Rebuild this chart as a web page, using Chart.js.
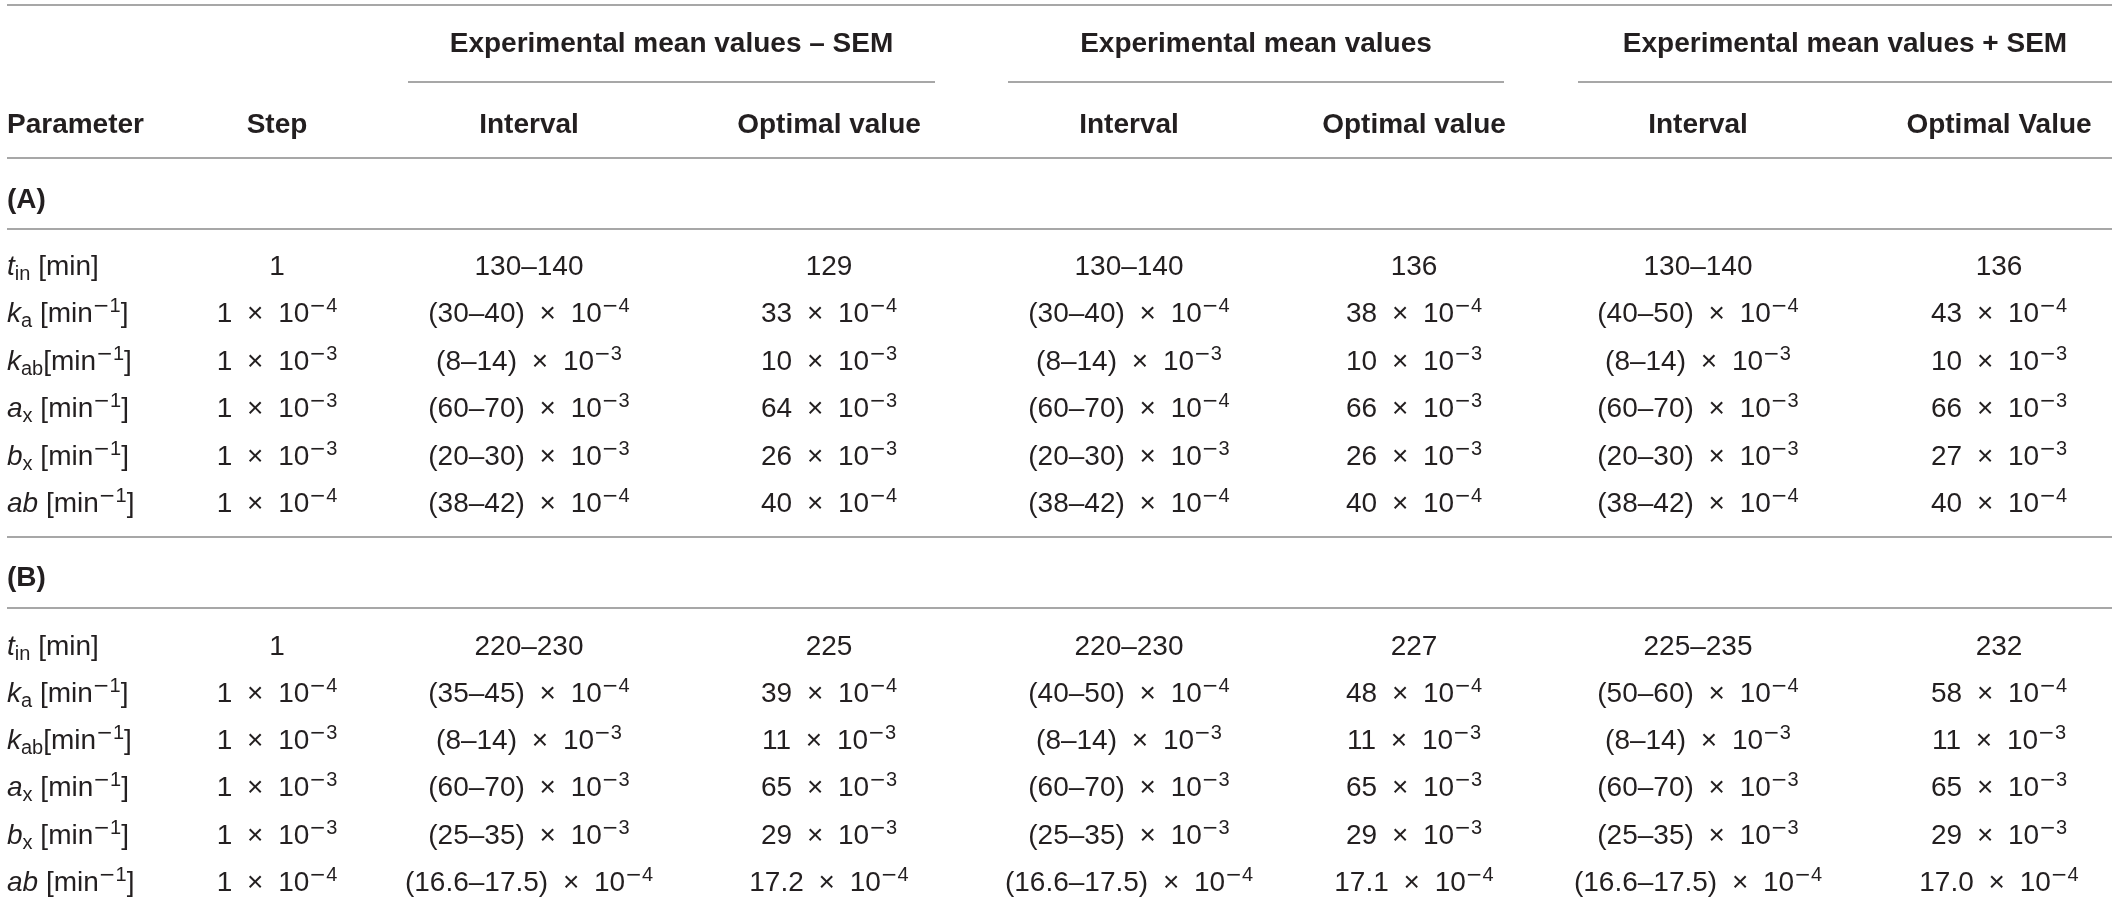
<!DOCTYPE html>
<html>
<head>
<meta charset="utf-8">
<script src="https://cdn.jsdelivr.net/npm/chart.js@4.4.1/dist/chart.umd.min.js"></script>
<style>
  html, body { margin: 0; padding: 0; background: #ffffff; }
  #wrap { width: 2118px; height: 902px; position: relative; }
</style>
</head>
<body>
<div id="wrap"><canvas id="table"></canvas></div>
<script>
// ---------------- DATA ----------------
// markup: *..* italic, _{..} subscript, ^{..} superscript
const groupHeaders = ['Experimental mean values – SEM', 'Experimental mean values', 'Experimental mean values + SEM'];
const columnHeaders = ['Parameter', 'Step', 'Interval', 'Optimal value', 'Interval', 'Optimal value', 'Interval', 'Optimal Value'];
const sectionLabels = ['(A)', '(B)'];
const parameters = ['*t*_{in} [min]', '*k*_{a} [min^{−1}]', '*k*_{ab}[min^{−1}]', '*a*_{x} [min^{−1}]', '*b*_{x} [min^{−1}]', '*ab* [min^{−1}]'];
const steps = ['1', '1 × 10^{−4}', '1 × 10^{−3}', '1 × 10^{−3}', '1 × 10^{−3}', '1 × 10^{−4}'];

// Section (A)
const semIntervalA  = ['130–140', '(30–40) × 10^{−4}', '(8–14) × 10^{−3}', '(60–70) × 10^{−3}', '(20–30) × 10^{−3}', '(38–42) × 10^{−4}'];
const semOptimalA   = ['129', '33 × 10^{−4}', '10 × 10^{−3}', '64 × 10^{−3}', '26 × 10^{−3}', '40 × 10^{−4}'];
const meanIntervalA = ['130–140', '(30–40) × 10^{−4}', '(8–14) × 10^{−3}', '(60–70) × 10^{−4}', '(20–30) × 10^{−3}', '(38–42) × 10^{−4}'];
const meanOptimalA  = ['136', '38 × 10^{−4}', '10 × 10^{−3}', '66 × 10^{−3}', '26 × 10^{−3}', '40 × 10^{−4}'];
const plusIntervalA = ['130–140', '(40–50) × 10^{−4}', '(8–14) × 10^{−3}', '(60–70) × 10^{−3}', '(20–30) × 10^{−3}', '(38–42) × 10^{−4}'];
const plusOptimalA  = ['136', '43 × 10^{−4}', '10 × 10^{−3}', '66 × 10^{−3}', '27 × 10^{−3}', '40 × 10^{−4}'];

// Section (B)
const semIntervalB  = ['220–230', '(35–45) × 10^{−4}', '(8–14) × 10^{−3}', '(60–70) × 10^{−3}', '(25–35) × 10^{−3}', '(16.6–17.5) × 10^{−4}'];
const semOptimalB   = ['225', '39 × 10^{−4}', '11 × 10^{−3}', '65 × 10^{−3}', '29 × 10^{−3}', '17.2 × 10^{−4}'];
const meanIntervalB = ['220–230', '(40–50) × 10^{−4}', '(8–14) × 10^{−3}', '(60–70) × 10^{−3}', '(25–35) × 10^{−3}', '(16.6–17.5) × 10^{−4}'];
const meanOptimalB  = ['227', '48 × 10^{−4}', '11 × 10^{−3}', '65 × 10^{−3}', '29 × 10^{−3}', '17.1 × 10^{−4}'];
const plusIntervalB = ['225–235', '(50–60) × 10^{−4}', '(8–14) × 10^{−3}', '(60–70) × 10^{−3}', '(25–35) × 10^{−3}', '(16.6–17.5) × 10^{−4}'];
const plusOptimalB  = ['232', '58 × 10^{−4}', '11 × 10^{−3}', '65 × 10^{−3}', '29 × 10^{−3}', '17.0 × 10^{−4}'];

// ---------------- LAYOUT (table units = scale units) ----------------
const COL_X = [7, 277, 529, 829, 1129, 1414, 1698, 1999];
const GROUP_SPANS = [[408, 935], [1008, 1504], [1578, 2112]];
const TABLE_X = [7, 2112];
const Y_TOP_RULE = 5, Y_GROUP = 42, Y_GROUP_RULE = 82, Y_HEAD = 123, Y_HEAD_RULE = 158;
const SECTION_Y = [198, 576];
const SECTION_RULE_Y = [229, 608];
const SECTION_SEP_Y = 537;
const ROWS_Y = [[265, 312, 360, 407, 455, 502], [645, 692, 739, 786, 834, 881]];

const TEXT_COLOR = '#231f20';
const RULE_COLOR = '#8a8a8a';
const FONT = '"Liberation Sans", Arial, Helvetica, sans-serif';
const MAIN_PX = 28, SMALL_PX = 20;

const sections = [
  [parameters, steps, semIntervalA, semOptimalA, meanIntervalA, meanOptimalA, plusIntervalA, plusOptimalA],
  [parameters, steps, semIntervalB, semOptimalB, meanIntervalB, meanOptimalB, plusIntervalB, plusOptimalB]
];

// ---------------- RULES as line datasets ----------------
function rule(x0, x1, y) {
  return { data: [{ x: x0, y: y }, { x: x1, y: y }], showLine: true, borderColor: RULE_COLOR,
           borderWidth: 1.5, pointRadius: 0, pointHoverRadius: 0, fill: false };
}
const ruleSets = [rule(TABLE_X[0], TABLE_X[1], Y_TOP_RULE)];
GROUP_SPANS.forEach(s => ruleSets.push(rule(s[0], s[1], Y_GROUP_RULE)));
ruleSets.push(rule(TABLE_X[0], TABLE_X[1], Y_HEAD_RULE));
SECTION_RULE_Y.forEach(y => ruleSets.push(rule(TABLE_X[0], TABLE_X[1], y)));
ruleSets.push(rule(TABLE_X[0], TABLE_X[1], SECTION_SEP_Y));

// ---------------- rich text ----------------
function parseRich(s) {
  const out = []; let italic = false; let buf = ''; let i = 0;
  const push = (t, pos) => { if (t) out.push({ t: t, it: italic, pos: pos }); };
  while (i < s.length) {
    const c = s[i];
    if (c === '*') { push(buf, 'base'); buf = ''; italic = !italic; i++; }
    else if ((c === '_' || c === '^') && s[i + 1] === '{') {
      push(buf, 'base'); buf = '';
      const j = s.indexOf('}', i);
      push(s.slice(i + 2, j), c === '_' ? 'sub' : 'sup');
      i = j + 1;
    } else { buf += c; i++; }
  }
  push(buf, 'base');
  return out;
}
function buildRuns(str, bold) {
  const runs = [];
  const w = bold ? 'bold ' : '';
  parseRich(str).forEach(tok => {
    if (tok.pos === 'base') {
      const font = (tok.it ? 'italic ' : '') + w + MAIN_PX + 'px ' + FONT;
      const parts = tok.t.split('×');
      parts.forEach((p, k) => {
        if (p) runs.push({ t: p, font: font, dy: 0, padL: 0, padR: 0 });
        if (k < parts.length - 1) runs.push({ t: '×', font: font, dy: 0, padL: 7, padR: 7 });
      });
    } else {
      const dy = tok.pos === 'sup' ? -10 : 5;
      let cur = '';
      const flush = () => { if (cur) { runs.push({ t: cur, font: w + SMALL_PX + 'px ' + FONT, dy: dy, padL: 0, padR: 0 }); cur = ''; } };
      for (const ch of tok.t) {
        if (ch === '−') { flush(); runs.push({ t: '−', font: w + SMALL_PX + 'px "DejaVu Sans", ' + FONT, dy: dy, padL: 0, padR: 0 }); }
        else cur += ch;
      }
      flush();
    }
  });
  return runs;
}
function drawRich(ctx, str, x, yCenter, align, bold) {
  const runs = buildRuns(str, bold);
  let total = 0;
  runs.forEach(r => { ctx.font = r.font; r.w = ctx.measureText(r.t).width; total += r.padL + r.w + r.padR; });
  let cx = align === 'left' ? x : x - total / 2;
  const base = yCenter + 10;
  ctx.fillStyle = TEXT_COLOR;
  ctx.textBaseline = 'alphabetic';
  ctx.textAlign = 'left';
  runs.forEach(r => {
    ctx.font = r.font;
    cx += r.padL;
    ctx.fillText(r.t, cx, base + r.dy);
    cx += r.w + r.padR;
  });
}

const tableTextPlugin = {
  id: 'tableText',
  afterDatasetsDraw(chart) {
    const ctx = chart.ctx;
    const px = v => chart.scales.x.getPixelForValue(v);
    const py = v => chart.scales.y.getPixelForValue(v);
    ctx.save();
    // group headers
    groupHeaders.forEach((h, g) => {
      drawRich(ctx, h, px((GROUP_SPANS[g][0] + GROUP_SPANS[g][1]) / 2), py(Y_GROUP), 'center', true);
    });
    // column headers
    columnHeaders.forEach((h, c) => {
      drawRich(ctx, h, px(COL_X[c]), py(Y_HEAD), c === 0 ? 'left' : 'center', true);
    });
    // sections
    sections.forEach((cols, s) => {
      drawRich(ctx, sectionLabels[s], px(COL_X[0]), py(SECTION_Y[s]), 'left', true);
      cols.forEach((col, c) => {
        col.forEach((cell, r) => {
          drawRich(ctx, cell, px(COL_X[c]), py(ROWS_Y[s][r]), c === 0 ? 'left' : 'center', false);
        });
      });
    });
    ctx.restore();
  }
};

new Chart(document.getElementById('table'), {
  type: 'scatter',
  data: { datasets: ruleSets },
  options: {
    responsive: true,
    maintainAspectRatio: false,
    animation: false,
    events: [],
    layout: { padding: 0 },
    plugins: { legend: { display: false }, tooltip: { enabled: false }, title: { display: false } },
    scales: {
      x: { type: 'linear', display: false, min: 0, max: 2118 },
      y: { type: 'linear', display: false, min: 0, max: 902, reverse: true }
    }
  },
  plugins: [tableTextPlugin]
});
</script>
</body>
</html>
